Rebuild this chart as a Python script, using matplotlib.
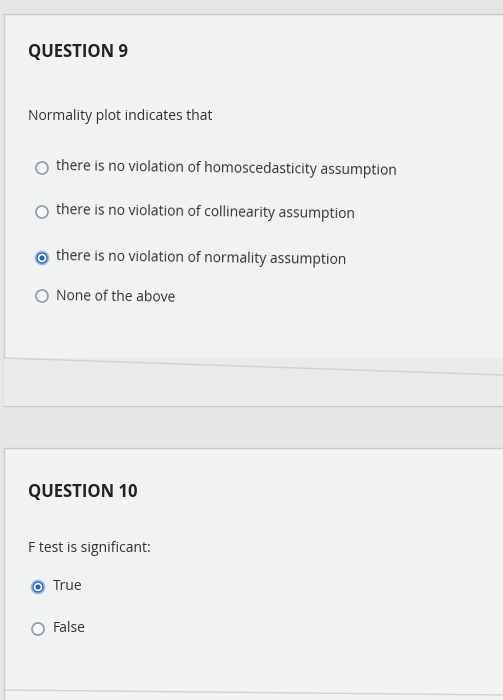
import matplotlib
matplotlib.use("Agg")
import matplotlib.pyplot as plt
from matplotlib.patches import Rectangle, Circle

plt.rcParams["font.family"] = ["Open Sans", "DejaVu Sans"]

q9_title = "QUESTION 9"
q9_prompt = "Normality plot indicates that"
q9_options = [
    "there is no violation of homoscedasticity assumption",
    "there is no violation of collinearity assumption",
    "there is no violation of normality assumption",
    "None of the above",
]
q9_selected = 2
q10_title = "QUESTION 10"
q10_prompt = "F test is significant:"
q10_options = ["True", "False"]
q10_selected = 0

W, H = 503, 700
fig = plt.figure(figsize=(W / 100, H / 100), dpi=100, facecolor="#e4e6e8")
ax = fig.add_axes([0, 0, 1, 1])
ax.set_xlim(0, W)
ax.set_ylim(H, 0)
ax.axis("off")

# cards
ax.add_patch(Rectangle((4, 14), 500, 392, facecolor="#f1f2f2", edgecolor="#c8cacc", lw=1))
ax.add_patch(Rectangle((4, 358), 500, 48, facecolor="#e9eaeb", edgecolor="none"))
ax.plot([4, 503], [358, 375], color="#d0d2d4", lw=1)
ax.add_patch(Rectangle((4, 448), 500, 260, facecolor="#f1f2f2", edgecolor="#c8cacc", lw=1))
ax.plot([4, 503], [690, 695], color="#d0d2d4", lw=1)

text_color = "#333333"


def radio(x, y, selected):
    if selected:
        ax.add_patch(Circle((x, y), 6.5, facecolor="#2a6bd0", edgecolor="#9fb8e0", lw=1.2))
        ax.add_patch(Circle((x, y), 3.4, facecolor="#1f5fc6", edgecolor="white", lw=1.2))
    else:
        ax.add_patch(Circle((x, y), 6, facecolor="#f8f8f8", edgecolor="#8a9bb0", lw=1.2))


ax.text(28, 52, q9_title, fontsize=12, fontweight="bold", color="#222", va="center")
ax.text(28, 116, q9_prompt, fontsize=10, color=text_color, va="center")
ys9 = [168, 212, 258, 296]
for i, (opt, y) in enumerate(zip(q9_options, ys9)):
    radio(42, y, i == q9_selected)
    ax.text(56, y + 1, opt, fontsize=10, color=text_color, va="center", rotation=-0.8)

ax.text(28, 492, q10_title, fontsize=12, fontweight="bold", color="#222", va="center")
ax.text(28, 548, q10_prompt, fontsize=10, color=text_color, va="center")
ys10 = [587, 629]
for i, (opt, y) in enumerate(zip(q10_options, ys10)):
    radio(38, y, i == q10_selected)
    ax.text(53, y, opt, fontsize=10, color=text_color, va="center")

fig.savefig("out.png", dpi=100, facecolor=fig.get_facecolor())
